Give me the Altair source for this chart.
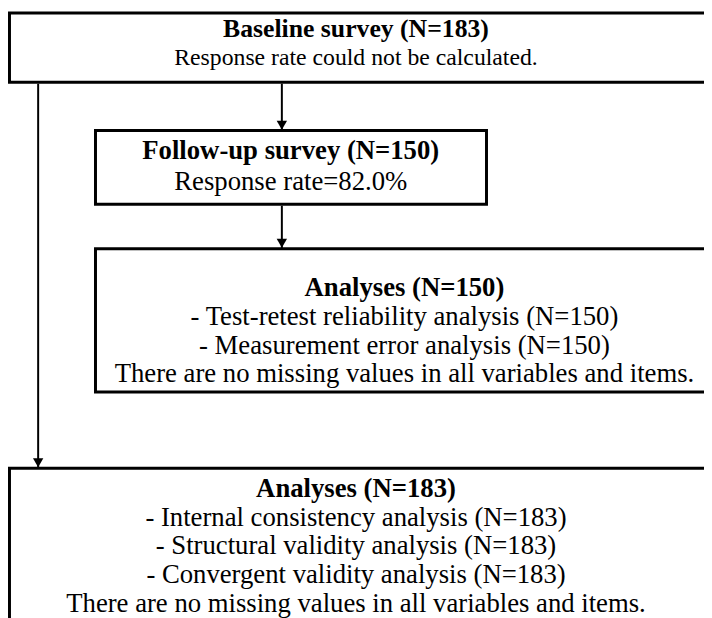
import altair as alt
import pandas as pd

# ---------------- content ----------------
box_titles = [
    "Baseline survey (N=183)",
    "Follow-up survey (N=150)",
    "Analyses (N=150)",
    "Analyses (N=183)",
]
box_lines = [
    ["Response rate could not be calculated."],
    ["Response rate=82.0%"],
    [
        "- Test-retest reliability analysis (N=150)",
        "- Measurement error analysis (N=150)",
        "There are no missing values in all variables and items.",
    ],
    [
        "- Internal consistency analysis (N=183)",
        "- Structural validity analysis (N=183)",
        "- Convergent validity analysis (N=183)",
        "There are no missing values in all variables and items.",
    ],
]

# ---------------- layout (page pixel space) ----------------
box_x1 = [9.5, 96.5, 96.5, 9.5]
box_x2 = [760, 492, 760, 760]
box_y1 = [9.5, 128.5, 248, 470]
box_y2 = [79.5, 203, 393, 700]
text_cx = [360, 294, 409, 360]
text_y0 = [26, 149, 288, 491]
line_gap = [29, 32, 29, 29]
title_fs = [26, 27, 27, 27]
body_fs = [24, 27, 27, 27]

arrow_x = [285, 285, 38.5]
arrow_y1 = [81, 204.5, 81]
arrow_y2 = [128.5, 248, 470]

FONT = "Liberation Serif"

xs = alt.Scale(domain=[8, 712], nice=False, zero=False)
ys = alt.Scale(domain=[8, 618], nice=False, zero=False, reverse=True)

boxes = pd.DataFrame({"x": box_x1, "x2": box_x2, "y": box_y1, "y2": box_y2})
arrows = pd.DataFrame({"x": arrow_x, "y": arrow_y1, "y2": arrow_y2})
heads = pd.DataFrame({"x": arrow_x, "y": [v - 5.5 for v in arrow_y2]})

rects = alt.Chart(boxes).mark_rect(fill="white", stroke="black", strokeWidth=3).encode(
    x=alt.X("x:Q", scale=xs, axis=None),
    x2="x2:Q",
    y=alt.Y("y:Q", scale=ys, axis=None),
    y2="y2:Q",
)

lines = alt.Chart(arrows).mark_rule(color="black", strokeWidth=2).encode(
    x=alt.X("x:Q", scale=xs, axis=None),
    y=alt.Y("y:Q", scale=ys, axis=None),
    y2="y2:Q",
)

tips = alt.Chart(heads).mark_point(
    shape="triangle-down", filled=True, color="black", size=110, opacity=1
).encode(
    x=alt.X("x:Q", scale=xs, axis=None),
    y=alt.Y("y:Q", scale=ys, axis=None),
)

text_layers = []
for i, t in enumerate(box_titles):
    tdf = pd.DataFrame({"x": [text_cx[i]], "y": [text_y0[i]], "text": [t]})
    text_layers.append(
        alt.Chart(tdf).mark_text(
            font=FONT, fontSize=title_fs[i], fontWeight="bold", color="black",
            align="center", baseline="middle",
        ).encode(
            x=alt.X("x:Q", scale=xs, axis=None),
            y=alt.Y("y:Q", scale=ys, axis=None),
            text="text:N",
        )
    )
    bdf = pd.DataFrame({
        "x": [text_cx[i]] * len(box_lines[i]),
        "y": [text_y0[i] + (j + 1) * line_gap[i] for j in range(len(box_lines[i]))],
        "text": box_lines[i],
    })
    text_layers.append(
        alt.Chart(bdf).mark_text(
            font=FONT, fontSize=body_fs[i], color="black",
            align="center", baseline="middle",
        ).encode(
            x=alt.X("x:Q", scale=xs, axis=None),
            y=alt.Y("y:Q", scale=ys, axis=None),
            text="text:N",
        )
    )

chart = (
    alt.layer(rects, lines, tips, *text_layers)
    .properties(
        width=704,
        height=610,
        padding=0,
        background="white",
        autosize=alt.AutoSizeParams(type="none"),
    )
    .configure_view(stroke=None)
)

chart.save("out.html", embed_options={"renderer": "svg", "actions": False})
